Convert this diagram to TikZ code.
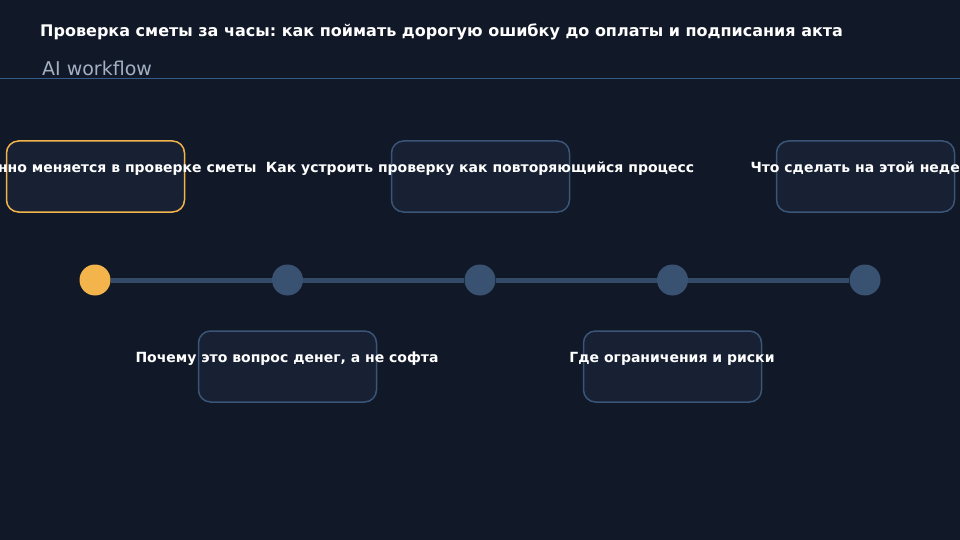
\documentclass[tikz,border=0pt]{standalone}
\usepackage{fontspec}
\setmainfont{DejaVu Sans}
\usetikzlibrary{positioning}
\frenchspacing
\definecolor{bgcolor}{HTML}{111827}
\definecolor{boxfill}{HTML}{172133}
\definecolor{boxline}{HTML}{3A5577}
\definecolor{trackcolor}{HTML}{334B69}
\definecolor{dotcolor}{HTML}{3A5272}
\definecolor{accent}{HTML}{F4B44C}
\definecolor{subgray}{HTML}{A3AFC2}
\definecolor{rulecolor}{HTML}{345C88}

\begin{document}
\begin{tikzpicture}[x=1pt, y=-1pt, line cap=round,
    stepcard/.style={draw=boxline, line width=1.5pt, fill=boxfill, rounded corners=12pt,
        minimum width=178pt, minimum height=71pt, inner sep=0pt},
    stepdot/.style={circle, fill=dotcolor, minimum size=31pt, inner sep=0pt},
    steptext/.style={text=white, font=\bfseries\fontsize{14}{16}\selectfont, anchor=base, inner sep=0pt}]
        \fill [bgcolor] (0,0) rectangle (960,540);
        \useasboundingbox (0,0) rectangle (960,540);

        % header
        \node [anchor=base west, inner sep=0pt, text=white, font=\bfseries\fontsize{16}{19}\selectfont] (title) at (40,37)
            {Проверка сметы за часы: как поймать дорогую ошибку до оплаты и подписания акта};
        \node [anchor=base west, inner sep=0pt, text=subgray, font=\fontsize{19}{22}\selectfont] (subtitle) at (42,76) {AI workflow};
        \draw [rulecolor, line width=1pt, line cap=butt] (0,78.5) -- (960,78.5);

        % timeline
        \node [stepdot, fill=accent] (dot1) at (95,280) {};
        \node [stepdot] (dot2) at (287.5,280) {};
        \node [stepdot] (dot3) at (480,280) {};
        \node [stepdot] (dot4) at (672.5,280) {};
        \node [stepdot] (dot5) at (865,280) {};
        \draw [trackcolor, line width=5pt, line cap=butt] (dot1.east) -- (dot2.west);
        \draw [trackcolor, line width=5pt, line cap=butt] (dot2.east) -- (dot3.west);
        \draw [trackcolor, line width=5pt, line cap=butt] (dot3.east) -- (dot4.west);
        \draw [trackcolor, line width=5pt, line cap=butt] (dot4.east) -- (dot5.west);

        % cards
        \node [stepcard, draw=accent] (card1) at (95.5,176.5) {};
        \node [stepcard] (card3) at (480.5,176.5) {};
        \node [stepcard] (card5) at (865.5,176.5) {};
        \node [stepcard] (card2) at (287.5,366.5) {};
        \node [stepcard] (card4) at (672.5,366.5) {};

        \node [steptext] (text1) at (95,172) {Что именно меняется в проверке сметы};
        \node [steptext] (text3) at (480,172) {Как устроить проверку как повторяющийся процесс};
        \node [steptext] (text5) at (865,172) {Что сделать на этой неделе};
        \node [steptext] (text2) at (287,362) {Почему это вопрос денег, а не софта};
        \node [steptext] (text4) at (672,362) {Где ограничения и риски};
\end{tikzpicture}
\end{document}
